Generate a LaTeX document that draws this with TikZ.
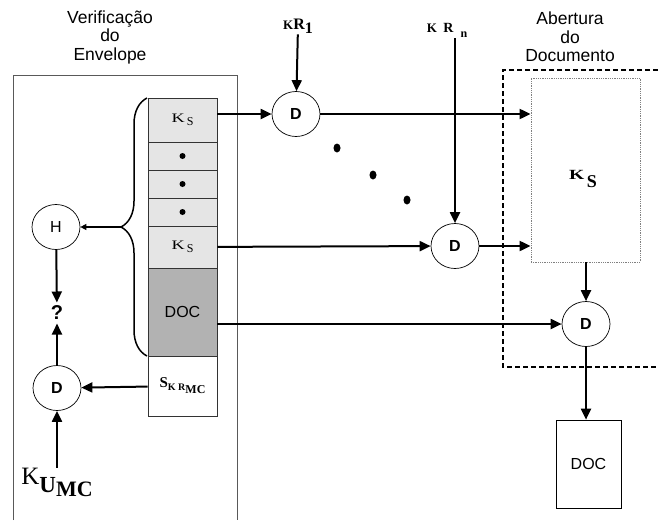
\documentclass[tikz,border=0pt]{standalone}
\usepackage{fontspec}
\setmainfont{Liberation Sans}
\newfontfamily\serifK{Liberation Serif}
\usetikzlibrary{arrows.meta,shapes.geometric,decorations.pathreplacing}

\newcommand{\kS}{{\serifK\fontsize{13}{13}\selectfont\scalebox{1.4}[1]{K}\,\raisebox{-3.5pt}{\fontsize{12}{12}\selectfont S}}}
\newcommand{\cellDot}{\tikz\fill (0,0) circle (3pt);}

\tikzset{
  title/.style={align=center, font=\fontsize{17.5}{18.5}\selectfont},
  cell/.style={draw=black!80, line width=0.6pt, minimum width=69pt, inner sep=0pt},
  dec/.style={ellipse, draw, line width=0.7pt, minimum width=48pt, minimum height=45pt,
    inner sep=0pt, font=\fontsize{16}{16}\selectfont\bfseries},
  flow/.style={line width=2pt, -{Triangle[length=11pt,width=10pt]}},
}

\begin{document}
\begin{tikzpicture}[x=1pt, y=-1pt]
    \useasboundingbox (0,0) rectangle (658,520);

    % Verificacao do envelope
    \node[title] (vtitle) at (110,37) {Verificação\\do\\Envelope};
    \draw[line width=1pt, black!65] (13,520) |- (237,75) -- (237,520);

    % envelope cells
    \node[cell, fill=black!10, minimum height=44pt] (ks1) at (182.5,120) {\kS};
    \node[cell, fill=black!10, minimum height=28pt] (p1) at (182.5,156) {\cellDot};
    \node[cell, fill=black!10, minimum height=28pt] (p2) at (182.5,184) {\cellDot};
    \node[cell, fill=black!10, minimum height=28pt] (p3) at (182.5,212) {\cellDot};
    \node[cell, fill=black!10, minimum height=42pt] (ks2) at (182.5,247) {\kS};
    \node[cell, fill=black!30, minimum height=88pt, font=\fontsize{16}{16}\selectfont] (doc) at (182.5,312) {DOC};
    \node[cell, fill=white, minimum height=60pt] (sig) at (182.5,386)
        {\serifK\bfseries\fontsize{15}{15}\selectfont S\raisebox{-3pt}{\fontsize{10}{10}\selectfont K R\raisebox{-3pt}{\fontsize{12}{12}\selectfont MC}}};

    % brace and hash
    \draw[line width=1.5pt, decorate, decoration={brace, amplitude=26pt}] (147,356) -- (147,98);
    \coordinate (btip) at (121,227);
    \node[dec, font=\fontsize{16}{16}\selectfont] (h) at (56,227) {H};
    \node[font=\fontsize{20}{20}\selectfont\bfseries] (q) at (57,313) {?};
    \node[dec] (d4) at (57,388) {D};
    \node[inner sep=0pt] (kumc) at (57,482)
        {\serifK\fontsize{25}{25}\selectfont K\raisebox{-8pt}{\bfseries\fontsize{23}{23}\selectfont U\raisebox{-4pt}{\fontsize{22}{22}\selectfont MC}}};

    \draw[line width=1.2pt, -{Triangle[length=6pt,width=6pt]}] (btip) -- (h);
    \draw[flow] (h) -- (q);
    \draw[flow] (d4) -- (q);
    \draw[flow] (sig) -- (d4);
    \draw[flow] (kumc) -- (d4);

    % decifragem das chaves
    \node[inner sep=1pt] (kr1) at (298,26)
        {\serifK\bfseries\fontsize{13}{13}\selectfont K\fontsize{16}{16}\selectfont R\raisebox{-4pt}{1}};
    \node[inner sep=1pt] (krn) at (447,30)
        {\serifK\bfseries\fontsize{13}{13}\selectfont K\enspace\fontsize{14}{14}\selectfont R\enspace\raisebox{-5pt}{\fontsize{12}{12}\selectfont n}};
    \node[dec] (d1) at (296,114) {D};
    \node[dec] (d2) at (455,246) {D};

    \fill (337,148) ellipse (3.5pt and 4.5pt);
    \fill (373,175) ellipse (3.5pt and 4.5pt);
    \fill (407,200) ellipse (3.5pt and 4.5pt);

    \draw[flow] (kr1) -- (d1);
    \draw[flow] (krn.south -| d2.north) -- (d2);
    \draw[flow] (ks1.east |- d1) -- (d1);
    \draw[flow] (ks2) -- (d2);

    % Abertura do documento
    \node[title] (atitle) at (570,37) {Abertura\\do\\Documento};
    \draw[line width=1.5pt, dash pattern=on 5pt off 3pt] (658,70) -| (503,367) -- (658,367);
    \node[draw=black!50, densely dotted, line width=0.8pt, minimum width=109pt, minimum height=184pt] (key) at (585.5,170) {};
    \node (keylbl) at (583,179)
        {\serifK\bfseries\fontsize{14}{14}\selectfont\scalebox{1.4}[1]{K}\,\raisebox{-8pt}{\fontsize{18}{18}\selectfont S}};
    \node[dec] (d3) at (586,324) {D};
    \node[draw, line width=0.7pt, minimum width=65pt, minimum height=88pt, font=\fontsize{16}{16}\selectfont] (out) at (588.5,464) {DOC};

    \draw[flow] (d1) -- (key.west |- d1);
    \draw[flow] (d2) -- (key.west |- d2);
    \draw[flow] (key.south -| d3) -- (d3);
    \draw[flow] (doc.east |- d3) -- (d3);
    \draw[flow] (d3) -- (out.north -| d3);

\end{tikzpicture}
\end{document}
